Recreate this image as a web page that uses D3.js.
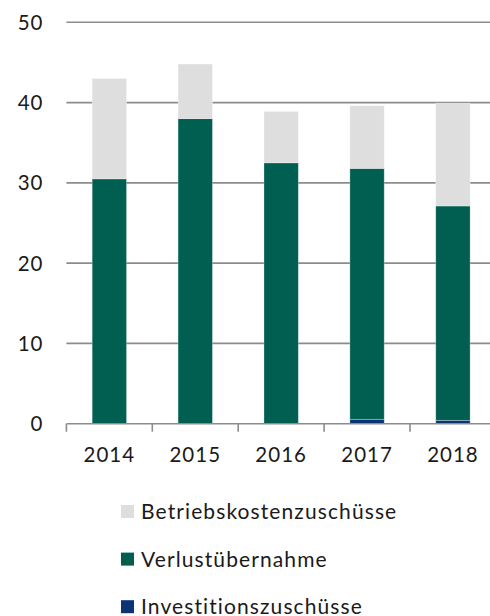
<!DOCTYPE html>
<html><head><meta charset="utf-8">
<script src="https://cdn.jsdelivr.net/npm/d3@7"></script>
<style>
html,body{margin:0;padding:0;background:#fff;}
svg{display:block;}
text{font-family:"Lato","DejaVu Sans",sans-serif;fill:#1a1a1a;}
</style></head>
<body>
<svg id="chart" width="490" height="616"></svg>
<script>
const years = ["2014","2015","2016","2017","2018"];
const investitionszuschuesse = [0, 0, 0, 0.55, 0.42];
const verlustuebernahme = [30.5, 38.0, 32.5, 31.25, 26.7];
const betriebskostenzuschuesse = [12.5, 6.8, 6.4, 7.8, 12.8];
const yTicks = [0, 10, 20, 30, 40, 50];
const seriesNames = ["Investitionszuschüsse", "Verlustübernahme", "Betriebskostenzuschüsse"];
const seriesColors = ["#0b3474", "#005f50", "#dedede"];

const rows = years.map((y, i) => ({
  year: y,
  "Investitionszuschüsse": investitionszuschuesse[i],
  "Verlustübernahme": verlustuebernahme[i],
  "Betriebskostenzuschüsse": betriebskostenzuschuesse[i]
}));

const svg = d3.select("#chart");
const x = d3.scaleBand().domain(years).range([66.4, 495.9]).paddingInner(0.6).paddingOuter(0.3);
const y = d3.scaleLinear().domain([0, 50]).range([423.7, 22.3]);

// gridlines
svg.append("g").selectAll("line").data(yTicks.filter(d => d > 0)).join("line")
  .attr("x1", 66.4).attr("x2", 490)
  .attr("y1", d => y(d)).attr("y2", d => y(d))
  .attr("stroke", "#8c8c8c").attr("stroke-width", 1.6);

// y labels
svg.append("g").selectAll("text").data(yTicks).join("text")
  .attr("x", 43.5).attr("y", d => y(d))
  .attr("dy", "0.36em")
  .attr("text-anchor", "end")
  .attr("font-size", 20.5)
  .attr("letter-spacing", 1)
  .text(d => d);

// stacked bars
const stack = d3.stack().keys(seriesNames)(rows);
svg.append("g").selectAll("g").data(stack).join("g")
  .attr("fill", (d, i) => seriesColors[i])
  .selectAll("rect").data(d => d).join("rect")
  .attr("x", d => x(d.data.year))
  .attr("width", x.bandwidth())
  .attr("y", d => y(d[1]))
  .attr("height", d => Math.max(0, y(d[0]) - y(d[1])))
  .attr("stroke", "rgba(255,255,255,0.35)").attr("stroke-width", 0.8);

// x axis line + ticks
const bounds = years.map(yr => x(yr) - x.step() * x.paddingInner() / 2);
bounds.push(bounds[bounds.length - 1] + x.step());
svg.append("line").attr("x1", 66.4).attr("x2", 490)
  .attr("y1", y(0)).attr("y2", y(0))
  .attr("stroke", "#8c8c8c").attr("stroke-width", 1.6);
svg.append("g").selectAll("line").data(bounds).join("line")
  .attr("x1", d => d).attr("x2", d => d)
  .attr("y1", y(0)).attr("y2", y(0) + 8)
  .attr("stroke", "#8c8c8c").attr("stroke-width", 1.6);

svg.append("g").selectAll("text").data(years).join("text")
  .attr("x", d => x(d) + x.bandwidth() / 2)
  .attr("y", 462)
  .attr("text-anchor", "middle")
  .attr("font-size", 20.5)
  .attr("letter-spacing", 1)
  .text(d => d);

// legend (top to bottom: Betrieb, Verlust, Invest)
const legendOrder = [2, 1, 0];
const lg = svg.append("g").selectAll("g").data(legendOrder).join("g")
  .attr("transform", (d, i) => `translate(121,${511.5 + i * 47.6})`);
lg.append("rect").attr("x", 0).attr("y", -6.5).attr("width", 13).attr("height", 13)
  .attr("fill", d => seriesColors[d]);
lg.append("text").attr("x", 20).attr("y", 0).attr("dy", "0.36em")
  .attr("font-size", 21).attr("letter-spacing", 1.1)
  .text(d => seriesNames[d]);
</script>
</body></html>
